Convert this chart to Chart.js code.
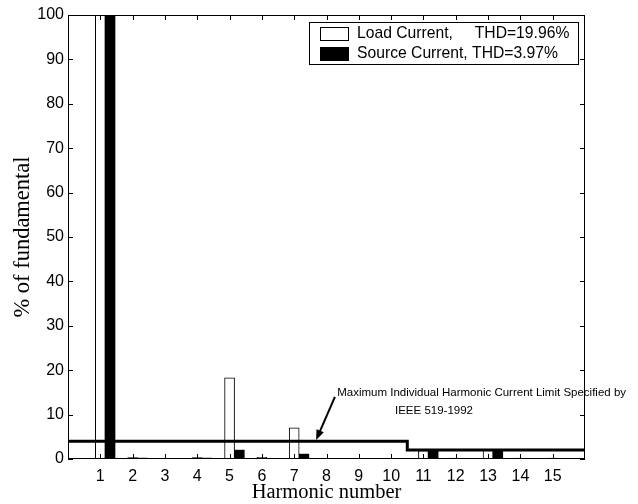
<!DOCTYPE html>
<html>
<head>
<meta charset="utf-8">
<script src="https://cdn.jsdelivr.net/npm/chart.js@4"></script>
<style>
  html, body { margin: 0; padding: 0; background: #fff; }
  #wrap { width: 638px; height: 504px; }
</style>
</head>
<body>
<div id="wrap"><canvas id="harmonicsChart" width="638" height="504"></canvas></div>
<script>
////////////////////////////////////////////////////////////////////////
// Data
const harmonics = [1, 2, 3, 4, 5, 6, 7, 8, 9, 10, 11, 12, 13, 14, 15]
const loadCurrent = [100, 0.3, 0.1, 0.3, 18.3, 0.4, 7.0, 0.1, 0.1, 0.1, 1.9, 0.2, 2.0, 0.2, 0.2]
const sourceCurrent = [100, 0.2, 0.1, 0.2, 2.0, 0.1, 1.1, 0.1, 0.1, 0.1, 2.1, 0.1, 2.0, 0.1, 0.1]
const limitX = [0, 10.5, 10.5, 16]
const limitY = [4, 4, 2, 2]
const loadLabel = "Load Current,     THD=19.96%"
const sourceLabel = "Source Current, THD=3.97%"
const noteLines = ["Maximum Individual Harmonic Current Limit Specified by", "IEEE 519-1992"]

////////////////////////////////////////////////////////////////////////
// Shared variables
const BAR_SHIFT = 0.3
const SANS = "'Liberation Sans', Arial, Helvetica, sans-serif"
const SERIF = "'Liberation Serif', 'Times New Roman', serif"

/**
 * Draws the MATLAB style box, inward ticks, legend and the IEEE note.
 */
const decorations = {
    id: 'decorations',
    afterDraw(chart) {
        const ctx = chart.ctx
        const area = chart.chartArea
        const xs = chart.scales.x
        const ys = chart.scales.y
        ctx.save()
        ctx.strokeStyle = '#000'
        ctx.lineWidth = 1

        // box
        ctx.strokeRect(area.left + 0.5, area.top + 0.5, area.right - area.left - 1, area.bottom - area.top - 1)

        // inward ticks
        const len = 5
        ctx.beginPath()
        xs.ticks.forEach(t => {
            const px = Math.round(xs.getPixelForValue(t.value)) + 0.5
            ctx.moveTo(px, area.bottom); ctx.lineTo(px, area.bottom - len)
            ctx.moveTo(px, area.top); ctx.lineTo(px, area.top + len)
        })
        ys.ticks.forEach(t => {
            const py = Math.round(ys.getPixelForValue(t.value)) + 0.5
            ctx.moveTo(area.left, py); ctx.lineTo(area.left + len, py)
            ctx.moveTo(area.right, py); ctx.lineTo(area.right - len, py)
        })
        ctx.stroke()

        // legend
        const bars = chart.data.datasets.filter(d => d.type === 'bar')
        const lx = 309, ly = 22, lw = 269, lh = 42
        ctx.fillStyle = '#fff'
        ctx.fillRect(lx, ly, lw, lh)
        ctx.strokeRect(lx + 0.5, ly + 0.5, lw, lh)
        ctx.font = '15.7px ' + SANS
        ctx.textBaseline = 'middle'
        bars.forEach((d, i) => {
            const cy = ly + 11 + i * 20
            ctx.fillStyle = d.backgroundColor
            ctx.fillRect(320, cy - 6, 28, 13)
            ctx.strokeRect(320.5, cy - 5.5, 28, 13)
            ctx.fillStyle = '#000'
            ctx.fillText(d.label, 357, cy + 1)
        })

        // note and arrow
        ctx.font = '11.5px ' + SANS
        ctx.fillStyle = '#000'
        ctx.textBaseline = 'middle'
        ctx.fillText(noteLines[0], xs.getPixelForValue(8.33), ys.getPixelForValue(14.9))
        ctx.fillText(noteLines[1], xs.getPixelForValue(10.12), ys.getPixelForValue(10.8))

        const tx = xs.getPixelForValue(8.26), ty = ys.getPixelForValue(14.0)
        const hx = xs.getPixelForValue(7.68), hy = ys.getPixelForValue(4.3)
        const ang = Math.atan2(hy - ty, hx - tx)
        ctx.lineWidth = 2
        ctx.beginPath()
        ctx.moveTo(tx, ty)
        ctx.lineTo(hx - 8 * Math.cos(ang), hy - 8 * Math.sin(ang))
        ctx.stroke()
        ctx.beginPath()
        ctx.moveTo(hx, hy)
        ctx.lineTo(hx - 10 * Math.cos(ang) + 4 * Math.sin(ang), hy - 10 * Math.sin(ang) - 4 * Math.cos(ang))
        ctx.lineTo(hx - 10 * Math.cos(ang) - 4 * Math.sin(ang), hy - 10 * Math.sin(ang) + 4 * Math.cos(ang))
        ctx.closePath()
        ctx.fill()
        ctx.restore()
    }
}

const config = {
    type: 'bar',
    data: {
        datasets: [
            {
                type: 'line',
                label: 'IEEE 519-1992 limit',
                data: limitX.map((x, i) => ({ x: x, y: limitY[i] })),
                borderColor: '#000',
                borderWidth: 3,
                pointRadius: 0,
                fill: false,
                tension: 0,
                order: 0
            },
            {
                type: 'bar',
                label: loadLabel,
                data: harmonics.map((h, i) => ({ x: h, y: loadCurrent[i] })),
                backgroundColor: '#fff',
                borderColor: '#000',
                borderWidth: 1,
                borderSkipped: false,
                barThickness: 10,
                grouped: false,
                order: 1
            },
            {
                type: 'bar',
                label: sourceLabel,
                data: harmonics.map((h, i) => ({ x: h + BAR_SHIFT, y: sourceCurrent[i] })),
                backgroundColor: '#000',
                borderColor: '#000',
                borderWidth: 0,
                barThickness: 10,
                grouped: false,
                order: 1
            }
        ]
    },
    options: {
        responsive: false,
        animation: false,
        layout: { padding: { left: 0, right: 53, top: 15, bottom: 0 } },
        plugins: {
            legend: { display: false },
            tooltip: { enabled: false }
        },
        scales: {
            x: {
                type: 'linear',
                min: 0,
                max: 16,
                offset: false,
                afterBuildTicks: scale => { scale.ticks = harmonics.map(v => ({ value: v })) },
                afterFit: scale => { scale.height = 45 },
                grid: { display: false, drawTicks: false },
                border: { display: false },
                ticks: {
                    color: '#000',
                    padding: 8,
                    maxRotation: 0,
                    autoSkip: false,
                    font: { family: SANS, size: 16 }
                },
                title: {
                    display: true,
                    text: 'Harmonic number',
                    color: '#000',
                    padding: { top: 0, bottom: -1 },
                    font: { family: SERIF, size: 20.5 }
                }
            },
            y: {
                min: 0,
                max: 100,
                afterFit: scale => { scale.width = 68 },
                grid: { display: false, drawTicks: false },
                border: { display: false },
                ticks: {
                    stepSize: 10,
                    color: '#000',
                    padding: 4,
                    font: { family: SANS, size: 16 }
                },
                title: {
                    display: true,
                    text: '% of fundamental',
                    color: '#000',
                    padding: { top: 10, bottom: 0 },
                    font: { family: SERIF, size: 22.5 }
                }
            }
        }
    },
    plugins: [decorations]
}

new Chart(document.getElementById('harmonicsChart'), config)
</script>
</body>
</html>
